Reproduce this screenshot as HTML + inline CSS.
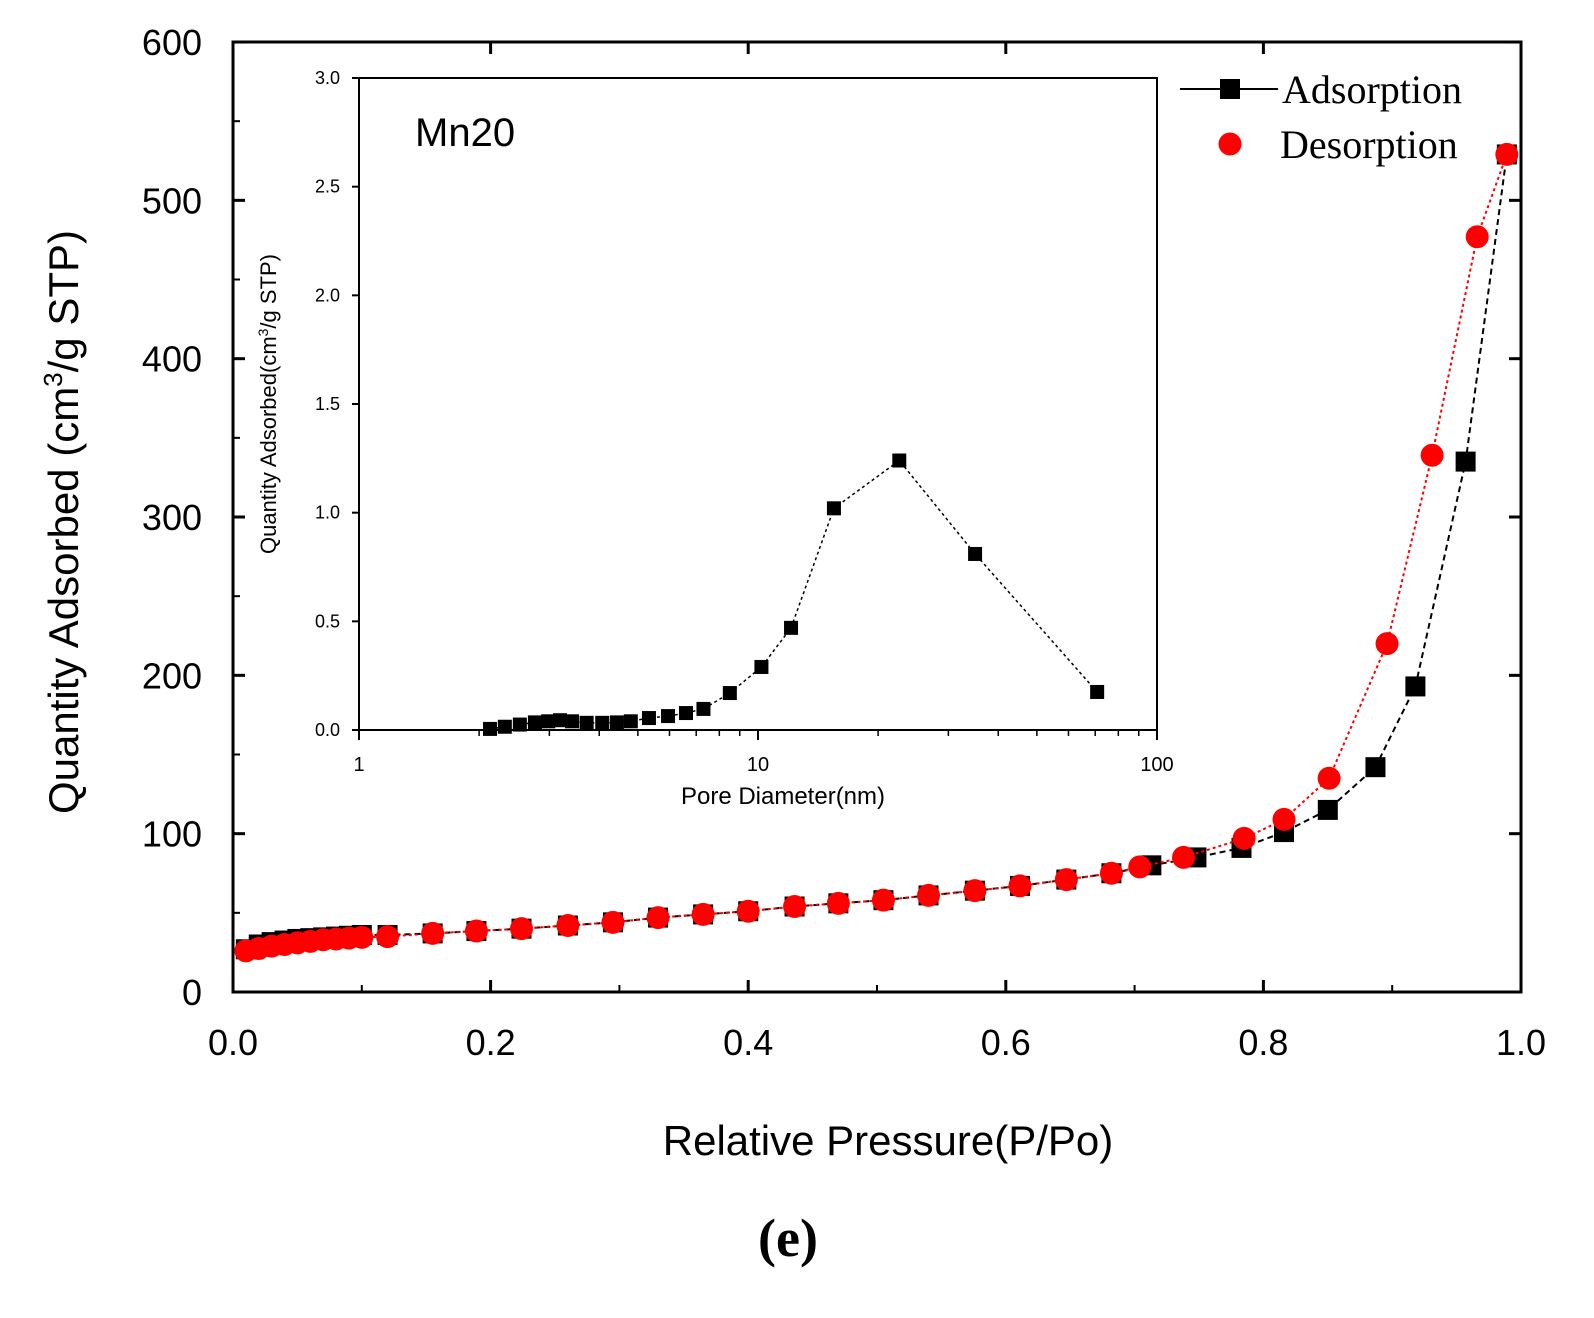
<!DOCTYPE html>
<html><head><meta charset="utf-8"><style>
html,body{margin:0;padding:0;background:#fff;}
svg{display:block;font-family:"Liberation Sans",sans-serif;}
</style></head><body>
<svg id="c" width="1594" height="1318" viewBox="0 0 1594 1318">
<rect x="0" y="0" width="1594" height="1318" fill="#fff"/>
<g id="main"></g>
<g id="inset"></g>
<text x="788" y="1256" text-anchor="middle" font-family="Liberation Serif,serif" font-weight="bold" font-size="54">(e)</text>
</svg>
<script>
const adsP=[0.01,0.02,0.03,0.04,0.05,0.06,0.07,0.08,0.09,0.1,0.12,0.155,0.189,0.224,0.26,0.295,0.33,0.365,0.4,0.436,0.47,0.505,0.54,0.576,0.611,0.647,0.682,0.713,0.748,0.783,0.816,0.85,0.887,0.918,0.957,0.989];
const adsQ=[27,30,31.5,32.5,33.5,34,34.5,35,35.5,36,36,37,38.5,40,42,44,47,49,51,54,56,58,61,64,67,71,75,80,85,91,101,115,142,193,335,529];
const desP=[0.989,0.966,0.931,0.896,0.851,0.816,0.785,0.738,0.704,0.682,0.647,0.611,0.576,0.54,0.505,0.47,0.436,0.4,0.365,0.33,0.295,0.26,0.224,0.189,0.155,0.12,0.1,0.09,0.08,0.07,0.06,0.05,0.04,0.03,0.02,0.01];
const desQ=[529,477,339,220,135,109,97,85,79,75,71,67,64,61,58,56,54,51,49,47,44,42,40,38.5,37,35,34.5,34,33.5,33,32,31,30,29,27.5,26];
const xTicks=["0.0","0.2","0.4","0.6","0.8","1.0"];
const yTicks=["0","100","200","300","400","500","600"];
const poreD=[2.13,2.32,2.53,2.76,2.98,3.19,3.42,3.72,4.07,4.43,4.8,5.33,5.95,6.6,7.3,8.5,10.2,12.1,15.5,22.6,35,70.8];
const poreV=[0.005,0.015,0.025,0.035,0.04,0.045,0.04,0.033,0.033,0.035,0.04,0.055,0.064,0.078,0.097,0.17,0.29,0.47,1.02,1.24,0.81,0.175];
const inYTicks=["0.0","0.5","1.0","1.5","2.0","2.5","3.0"];
const inXTicks=["1","10","100"];

const NS="http://www.w3.org/2000/svg";
function mk(p,t,a){const e=document.createElementNS(NS,t);for(const k in a)e.setAttribute(k,a[k]);p.appendChild(e);return e;}
const X=v=>233+v*1288, Y=v=>992-v*1.5833;
const g=document.getElementById('main');
// axes box
let fr=mk(g,'rect',{x:233,y:42,width:1288,height:950,fill:'none',stroke:'#000','stroke-width':3});


xTicks.forEach((t,i)=>{const v=i*0.2;const x=X(v);
 mk(g,'line',{x1:x,y1:992,x2:x,y2:980,stroke:'#000','stroke-width':3});
 mk(g,'line',{x1:x+128.8/2*0,y1:42,x2:x,y2:54,stroke:'#000','stroke-width':3});
 if(i<5){const xm=X(v+0.1);mk(g,'line',{x1:xm,y1:992,x2:xm,y2:985,stroke:'#000','stroke-width':2});}
 const tx=mk(g,'text',{x:x,y:1055,'text-anchor':'middle','font-size':36});tx.textContent=t;
 
 
});
yTicks.forEach((t,i)=>{const v=i*100;const y=Y(v);
 mk(g,'line',{x1:233,y1:y,x2:245,y2:y,stroke:'#000','stroke-width':3});
 mk(g,'line',{x1:1521,y1:y,x2:1509,y2:y,stroke:'#000','stroke-width':3});
 if(i<6){const ym=Y(v+50);mk(g,'line',{x1:233,y1:ym,x2:240,y2:ym,stroke:'#000','stroke-width':2});}
 const tx=mk(g,'text',{x:202,y:y+13,'text-anchor':'end','font-size':36});tx.textContent=t;
 
 
});
let xt=mk(g,'text',{x:888,y:1155,'text-anchor':'middle','font-size':42});xt.textContent='Relative Pressure(P/Po)';


let yt=mk(g,'text',{x:0,y:0,'text-anchor':'middle','font-size':42,transform:'translate(78,522) rotate(-90)'});
yt.innerHTML='Quantity Adsorbed (cm<tspan dy="-16" font-size="26">3</tspan><tspan dy="16">/g STP)</tspan>';


// series
let al=mk(g,'polyline',{points:adsP.map((p,i)=>X(p)+','+Y(adsQ[i])).join(' '),fill:'none',stroke:'#000','stroke-width':2,'stroke-dasharray':'6,4'});


adsP.forEach((p,i)=>{const r=mk(g,'rect',{x:X(p)-10,y:Y(adsQ[i])-10,width:20,height:20,fill:'#000'});
 
 });
let dl=mk(g,'polyline',{points:desP.map((p,i)=>X(p)+','+Y(desQ[i])).join(' '),fill:'none',stroke:'#f00','stroke-width':2,'stroke-dasharray':'3,3'});


desP.forEach((p,i)=>{const c=mk(g,'circle',{cx:X(p),cy:Y(desQ[i]),r:11.5,fill:'#f00'});
 
 });
// legend
let lg=mk(g,'g',{});


mk(lg,'line',{x1:1180,y1:89,x2:1278,y2:89,stroke:'#000','stroke-width':2});
mk(lg,'rect',{x:1220,y:79,width:20,height:20,fill:'#000'});
let l1=mk(lg,'text',{x:1282,y:103,'font-family':'Liberation Serif,serif','font-size':40});l1.textContent='Adsorption';
mk(lg,'circle',{cx:1230,cy:144,r:11.5,fill:'#f00'});
let l2=mk(lg,'text',{x:1280,y:158,'font-family':'Liberation Serif,serif','font-size':40});l2.textContent='Desorption';

// inset
const h=document.getElementById('inset');
const IX=d=>359+Math.log10(d)*399, IY=v=>730-v*217.33;
let ifr=mk(h,'rect',{x:359,y:78,width:798,height:652,fill:'#fff',stroke:'#000','stroke-width':2});


inYTicks.forEach((t,i)=>{const v=i*0.5;const y=IY(v);
 mk(h,'line',{x1:359,y1:y,x2:352,y2:y,stroke:'#000','stroke-width':2});
 const tx=mk(h,'text',{x:340,y:y+6,'text-anchor':'end','font-size':18});tx.textContent=t;
 
 
});
inXTicks.forEach((t,i)=>{const x=IX(Math.pow(10,i));
 mk(h,'line',{x1:x,y1:730,x2:x,y2:740,stroke:'#000','stroke-width':2});
 const tx=mk(h,'text',{x:x,y:771,'text-anchor':'middle','font-size':20});tx.textContent=t;
 
 
 if(i<2)for(let m=2;m<10;m++){const xm=IX(m*Math.pow(10,i));mk(h,'line',{x1:xm,y1:730,x2:xm,y2:736,stroke:'#000','stroke-width':1.5});}
});
let ixt=mk(h,'text',{x:783,y:804,'text-anchor':'middle','font-size':24});ixt.textContent='Pore Diameter(nm)';


let iyt=mk(h,'text',{x:0,y:0,'text-anchor':'middle','font-size':22,transform:'translate(276,404) rotate(-90)'});
iyt.innerHTML='Quantity Adsorbed(cm<tspan dy="-8" font-size="14">3</tspan><tspan dy="8">/g STP)</tspan>';


let lab=mk(h,'text',{x:415,y:146,'font-size':40});lab.textContent='Mn20';


let pl=mk(h,'polyline',{points:poreD.map((d,i)=>IX(d)+','+IY(poreV[i])).join(' '),fill:'none',stroke:'#000','stroke-width':1.5,'stroke-dasharray':'3,3'});


poreD.forEach((d,i)=>{const r=mk(h,'rect',{x:IX(d)-7,y:IY(poreV[i])-7,width:14,height:14,fill:'#000'});
 
 });
</script>
</body></html>
